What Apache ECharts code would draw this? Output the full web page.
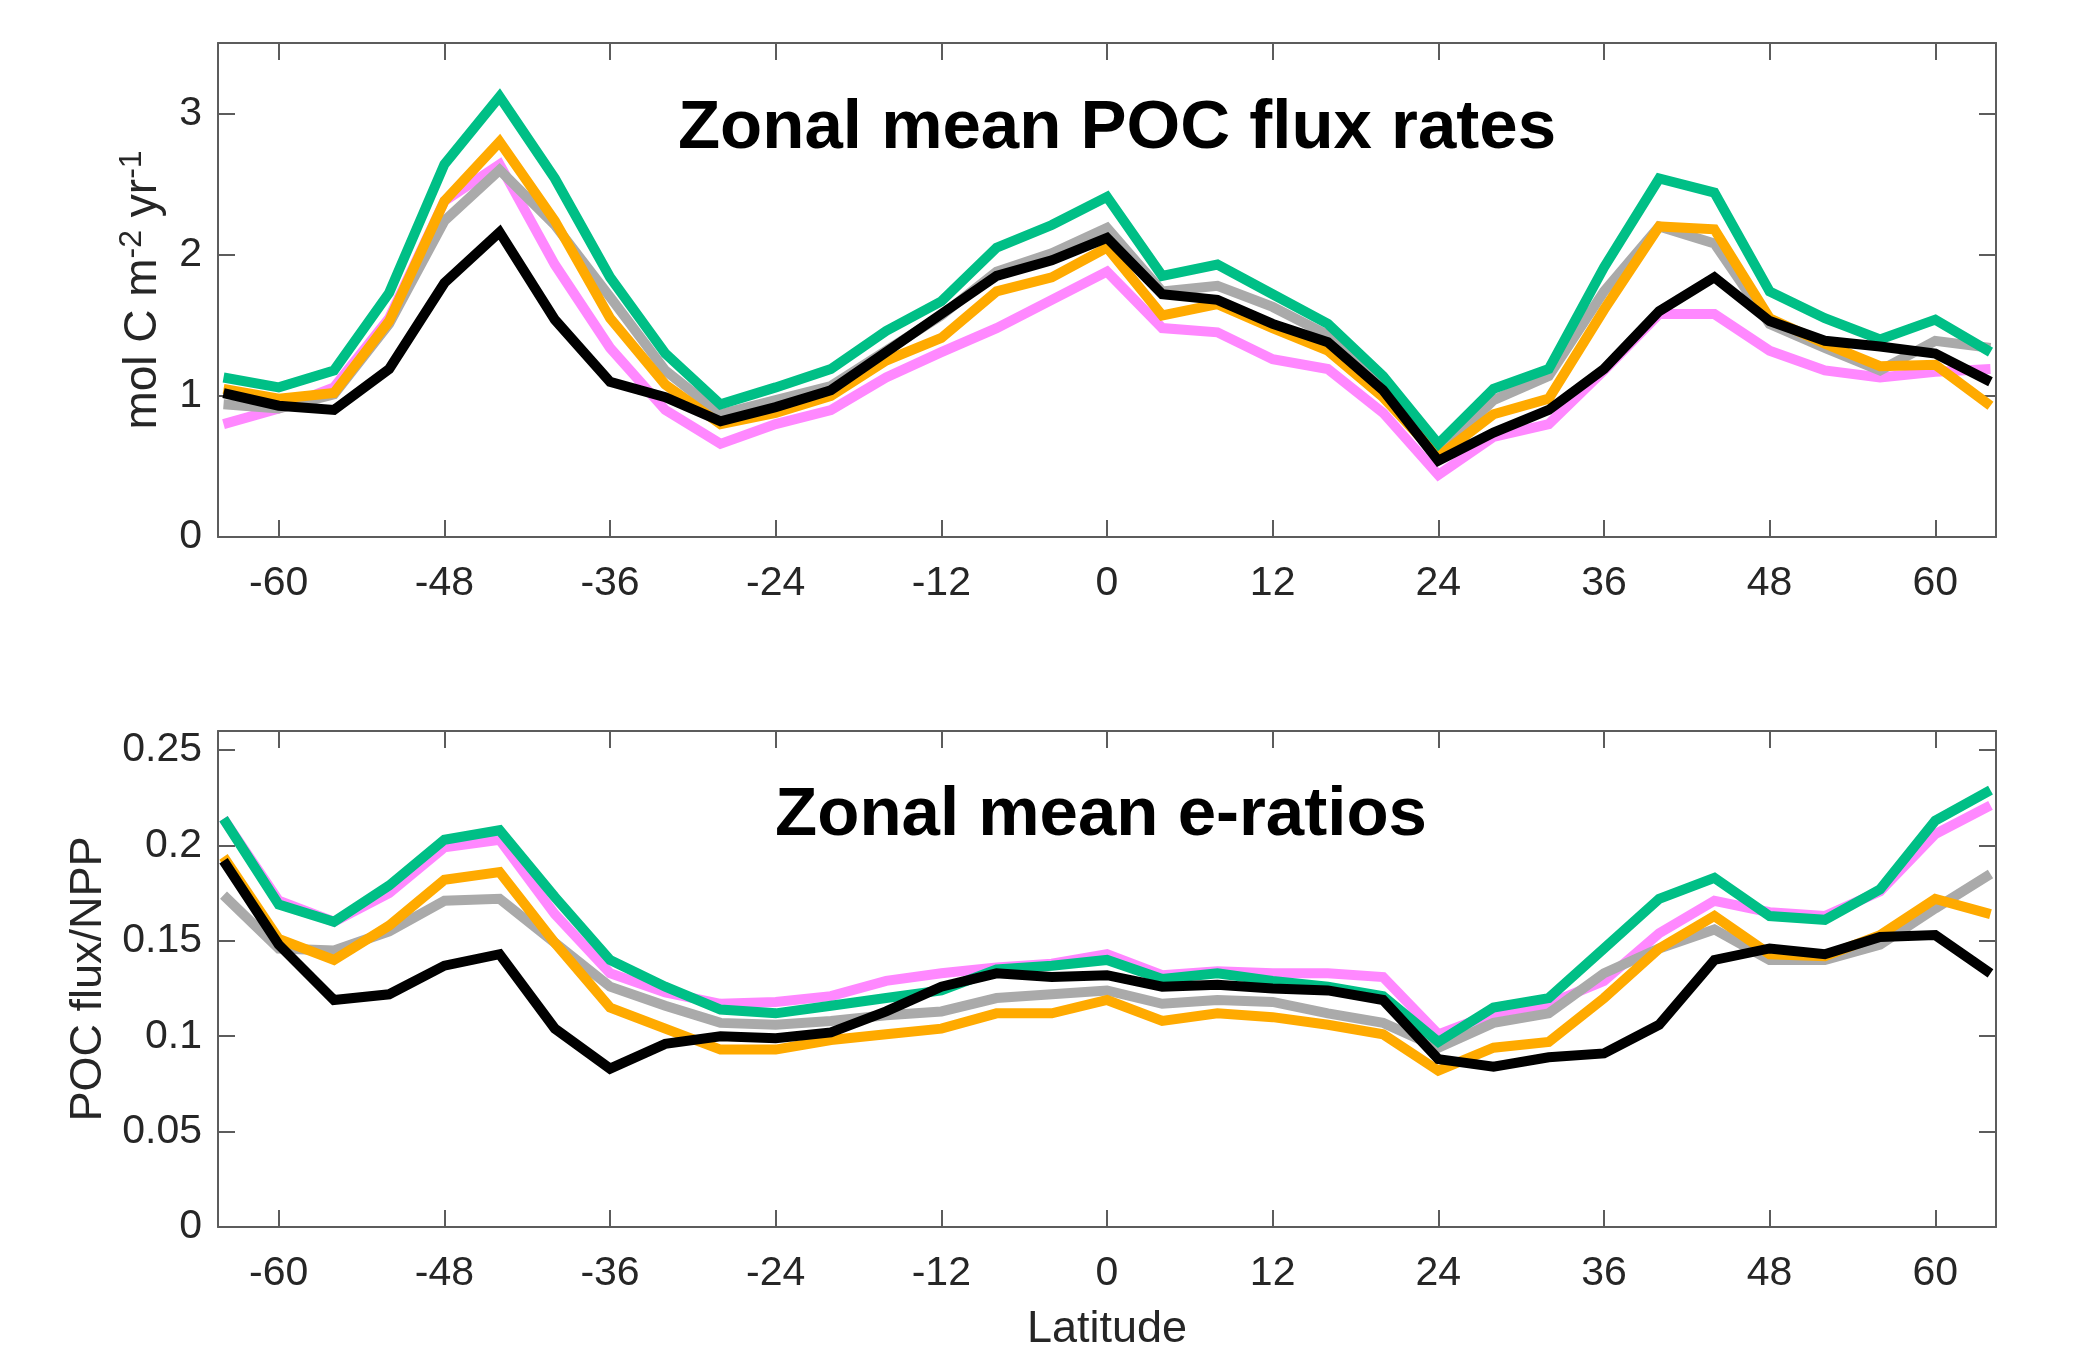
<!DOCTYPE html>
<html style="height: 100%">

<head>
    <meta charset="UTF-8" />
    <title>Zonal mean POC flux</title>
    <script type="text/javascript" src="https://cdn.jsdelivr.net/npm/echarts@6.0.0/dist/echarts.min.js"></script>
</head>

<body style="height: 100%; margin: 0; background: #fff">
    <div id="main" style="width: 2092px; height: 1346px; margin: 0"></div>
    <script type="text/javascript">

        // latitude of each zonal band (every 4 degrees)
        var latitudes = [-64, -60, -56, -52, -48, -44, -40, -36, -32, -28, -24, -20, -16, -12, -8, -4,
            0, 4, 8, 12, 16, 20, 24, 28, 32, 36, 40, 44, 48, 52, 56, 60, 64];
        var latTicks = [-60, -48, -36, -24, -12, 0, 12, 24, 36, 48, 60];
        var fluxTicks = [0, 1, 2, 3];
        var ratioTicks = [0, 0.05, 0.1, 0.15, 0.2, 0.25];

        // top panel: POC flux, mol C m-2 yr-1
        var fluxPink = [0.80, 0.91, 1.06, 1.55, 2.38, 2.64, 1.93, 1.34, 0.90, 0.66, 0.80, 0.90, 1.13, 1.31, 1.48, 1.68,
            1.88, 1.48, 1.45, 1.26, 1.19, 0.88, 0.44, 0.71, 0.80, 1.18, 1.58, 1.58, 1.32, 1.18, 1.13, 1.17, 1.19];
        var fluxGray = [0.94, 0.91, 1.01, 1.51, 2.24, 2.60, 2.21, 1.70, 1.18, 0.87, 0.97, 1.07, 1.32, 1.57, 1.88, 2.01,
            2.19, 1.74, 1.78, 1.63, 1.43, 1.05, 0.59, 0.97, 1.14, 1.74, 2.20, 2.08, 1.51, 1.34, 1.18, 1.39, 1.34];
        var fluxOrange = [1.05, 0.98, 1.02, 1.53, 2.38, 2.80, 2.24, 1.55, 1.08, 0.80, 0.88, 1.00, 1.25, 1.41, 1.74, 1.84,
            2.05, 1.57, 1.65, 1.48, 1.32, 0.99, 0.57, 0.87, 0.98, 1.61, 2.20, 2.18, 1.55, 1.37, 1.21, 1.22, 0.93];
        var fluxGreen = [1.13, 1.06, 1.18, 1.73, 2.64, 3.12, 2.54, 1.84, 1.30, 0.94, 1.06, 1.19, 1.46, 1.67, 2.05, 2.21,
            2.41, 1.85, 1.93, 1.72, 1.51, 1.14, 0.66, 1.05, 1.19, 1.91, 2.54, 2.44, 1.74, 1.55, 1.40, 1.54, 1.31];
        var fluxBlack = [1.02, 0.93, 0.90, 1.19, 1.80, 2.16, 1.54, 1.10, 0.99, 0.82, 0.92, 1.04, 1.31, 1.58, 1.85, 1.96,
            2.12, 1.72, 1.68, 1.51, 1.38, 1.04, 0.54, 0.74, 0.90, 1.19, 1.60, 1.84, 1.53, 1.39, 1.35, 1.30, 1.10];

        // bottom panel: e-ratio (POC flux / NPP)
        var ratioPink = [0.214, 0.171, 0.160, 0.175, 0.199, 0.203, 0.164, 0.133, 0.123, 0.117, 0.118, 0.121, 0.129, 0.133, 0.136, 0.138,
            0.143, 0.132, 0.134, 0.133, 0.133, 0.131, 0.101, 0.112, 0.117, 0.129, 0.154, 0.171, 0.165, 0.163, 0.176, 0.206, 0.221];
        var ratioGray = [0.174, 0.146, 0.145, 0.155, 0.171, 0.172, 0.149, 0.126, 0.116, 0.107, 0.106, 0.108, 0.111, 0.113, 0.120, 0.122,
            0.124, 0.117, 0.119, 0.118, 0.112, 0.107, 0.094, 0.107, 0.112, 0.133, 0.146, 0.156, 0.140, 0.140, 0.148, 0.167, 0.185];
        var ratioOrange = [0.194, 0.151, 0.140, 0.158, 0.182, 0.186, 0.149, 0.115, 0.104, 0.093, 0.093, 0.098, 0.101, 0.104, 0.112, 0.112,
            0.119, 0.108, 0.112, 0.110, 0.106, 0.101, 0.082, 0.094, 0.097, 0.120, 0.146, 0.163, 0.143, 0.142, 0.153, 0.172, 0.164];
        var ratioGreen = [0.214, 0.169, 0.160, 0.179, 0.203, 0.208, 0.173, 0.140, 0.126, 0.114, 0.112, 0.116, 0.120, 0.124, 0.135, 0.137,
            0.140, 0.130, 0.133, 0.129, 0.126, 0.121, 0.097, 0.115, 0.120, 0.146, 0.172, 0.183, 0.163, 0.161, 0.177, 0.213, 0.229];
        var ratioBlack = [0.192, 0.148, 0.119, 0.122, 0.137, 0.143, 0.104, 0.083, 0.096, 0.100, 0.099, 0.102, 0.113, 0.126, 0.133, 0.131,
            0.132, 0.126, 0.127, 0.125, 0.124, 0.119, 0.088, 0.084, 0.089, 0.091, 0.106, 0.140, 0.146, 0.143, 0.152, 0.153, 0.133];

        var colors = ['#ff88ff', '#aaaaaa', '#ffaa00', '#00bf86', '#000000'];
        var fluxSets = [fluxPink, fluxGray, fluxOrange, fluxGreen, fluxBlack];
        var ratioSets = [ratioPink, ratioGray, ratioOrange, ratioGreen, ratioBlack];

        var font = 'Liberation Sans, Arial, Helvetica, sans-serif';
        var frame = '#5c5c5c';
        var textColor = '#262626';

        function pairs(values)
        {
            return values.map(function (v, i) { return [latitudes[i], v]; });
        }

        function xAxisFor(grid, top)
        {
            return {
                type: 'value', gridIndex: grid, position: top ? 'top' : 'bottom',
                min: -64.4, max: 64.4,
                axisLine: { show: true, onZero: false, lineStyle: { color: frame, width: 2 } },
                axisTick: { show: true, inside: true, length: 17, customValues: latTicks, lineStyle: { color: frame, width: 2 } },
                axisLabel: {
                    show: !top, customValues: latTicks, margin: 26,
                    fontSize: 41, color: textColor, fontFamily: font
                },
                splitLine: { show: false }
            };
        }

        function yAxisFor(grid, right, max, ticks, extra)
        {
            var axis = {
                type: 'value', gridIndex: grid, position: right ? 'right' : 'left',
                min: 0, max: max,
                axisLine: { show: true, onZero: false, lineStyle: { color: frame, width: 2 } },
                axisTick: { show: true, inside: true, length: 17, customValues: ticks, lineStyle: { color: frame, width: 2 } },
                axisLabel: {
                    show: !right, customValues: ticks, margin: 16,
                    fontSize: 41, color: textColor, fontFamily: font
                },
                splitLine: { show: false }
            };
            return Object.assign(axis, extra || {});
        }

        var series = [];
        fluxSets.forEach(function (set, i)
        {
            series.push({
                type: 'line', xAxisIndex: 0, yAxisIndex: 0, data: pairs(set),
                showSymbol: false, silent: true,
                lineStyle: { color: colors[i], width: 10, join: 'miter' }
            });
        });
        ratioSets.forEach(function (set, i)
        {
            series.push({
                type: 'line', xAxisIndex: 2, yAxisIndex: 2, data: pairs(set),
                showSymbol: false, silent: true,
                lineStyle: { color: colors[i], width: 10, join: 'miter' }
            });
        });

        var chartDom = document.getElementById('main');
        var myChart = echarts.init(chartDom);
        var option = {
            backgroundColor: '#ffffff',
            animation: false,
            title: [
                {
                    text: 'Zonal mean POC flux rates', left: 1117, top: 94, textAlign: 'center', padding: 0,
                    textStyle: { fontSize: 69, fontWeight: 'bold', color: '#000', fontFamily: font, lineHeight: 69 }
                },
                {
                    text: 'Zonal mean e-ratios', left: 1101, top: 781, textAlign: 'center', padding: 0,
                    textStyle: { fontSize: 69, fontWeight: 'bold', color: '#000', fontFamily: font, lineHeight: 69 }
                }
            ],
            // keep the plot boxes where they are; labels may sit near the canvas edge
            grid: [
                { left: 218, right: 96, top: 43, height: 494, outerBoundsMode: 'none' },
                { left: 218, right: 96, top: 731, height: 496, outerBoundsMode: 'none' }
            ],
            xAxis: [
                xAxisFor(0, false),
                xAxisFor(0, true),
                Object.assign(xAxisFor(1, false), {
                    name: 'Latitude', nameLocation: 'middle', nameGap: 80,
                    nameTextStyle: { fontSize: 45, color: textColor, fontFamily: font }
                }),
                xAxisFor(1, true)
            ],
            yAxis: [
                yAxisFor(0, false, 3.5, fluxTicks, {
                    name: 'mol C m{sup|-2} yr{sup|-1}', nameLocation: 'middle', nameGap: 48,
                    nameTextStyle: {
                        fontSize: 46, color: textColor, fontFamily: font,
                        rich: { sup: { fontSize: 32, color: textColor, fontFamily: font, padding: [0, 0, 22, 0] } }
                    }
                }),
                yAxisFor(0, true, 3.5, fluxTicks),
                yAxisFor(1, false, 0.26, ratioTicks, {
                    name: 'POC flux/NPP', nameLocation: 'middle', nameGap: 107,
                    nameTextStyle: { fontSize: 45, color: textColor, fontFamily: font }
                }),
                yAxisFor(1, true, 0.26, ratioTicks)
            ],
            series: series
        };

        myChart.setOption(option);

    </script>
</body>

</html>
